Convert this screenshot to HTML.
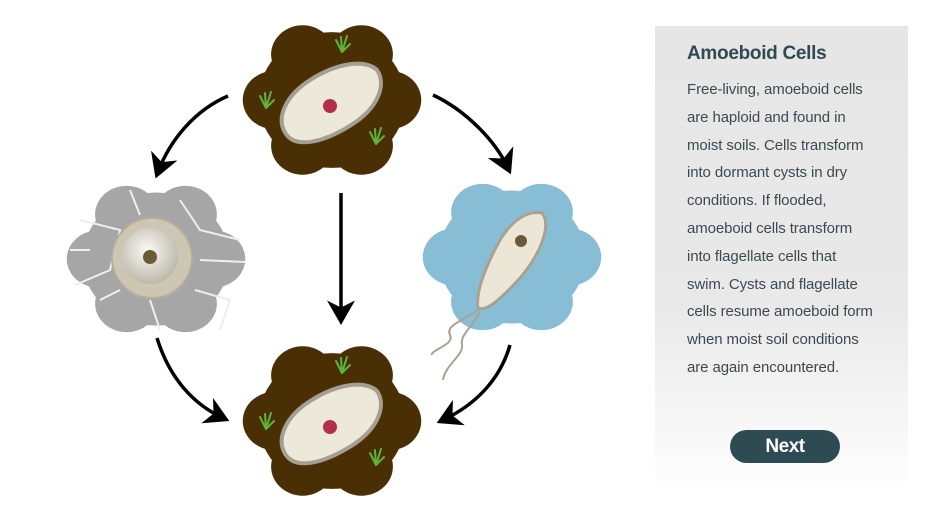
<!DOCTYPE html>
<html><head><meta charset="utf-8"><style>
body{margin:0;width:940px;height:526px;background:#fff;position:relative;overflow:hidden;font-family:"Liberation Sans",sans-serif}
#panel{position:absolute;left:655px;top:26px;width:253px;height:470px;background:linear-gradient(#e6e6e6 0%,#e9e9e9 60%,#fff 100%)}
#panel h1{position:absolute;left:32px;top:17px;margin:0;font-size:19px;font-weight:bold;color:#2f4a50;letter-spacing:-0.3px}
#panel p{position:absolute;left:32px;top:50px;margin:0;white-space:nowrap;font-size:15px;line-height:27.8px;color:#3c4a4e;letter-spacing:-0.1px}
#btn{position:absolute;left:75px;top:404px;width:110px;height:33px;border-radius:17px;background:#2e4b53;color:#fff;font-weight:bold;font-size:19px;text-align:center;line-height:33px;letter-spacing:-0.5px}
svg{position:absolute;left:0;top:0}
</style></head><body>
<svg width="650" height="526" viewBox="0 0 650 526">
<defs>
<marker id="ah" markerWidth="8" markerHeight="8" refX="5" refY="4" orient="auto" markerUnits="strokeWidth"><path d="M0,0 L7,4 L0,8 L2,4z" fill="#000"/></marker>
<radialGradient id="cy" cx="0.45" cy="0.4" r="0.6"><stop offset="0" stop-color="#fafaf6"/><stop offset="1" stop-color="#bdb8aa"/></radialGradient>
<g id="blob">
<circle r="70"/><circle cx="55" cy="0" r="30"/><circle cx="-55" cy="0" r="30"/><circle cx="28" cy="47" r="30"/><circle cx="-28" cy="47" r="30"/><circle cx="28" cy="-47" r="30"/><circle cx="-28" cy="-47" r="30"/>
</g>
<g id="grass" fill="none" stroke="#5cb53a" stroke-width="2" stroke-linecap="round"><path d="M0,10 L-6,-2 M0,10 L-1,-5 M0,10 L5,-6 M0,10 L8,2"/></g>
<g id="soil">
<use href="#blob" fill="#4a2f05" transform="scale(1.05,0.97)"/>
<g transform="rotate(-32 0 4)">
<path d="M-55,4 C-55,-14 -35,-28 -5,-28 C25,-28 50,-18 56,-2 C58,14 40,32 5,32 C-30,32 -55,22 -55,4Z" fill="#ece8da" stroke="#a59f92" stroke-width="4"/>
</g>
<circle cx="-2" cy="6" r="7" fill="#b3304a"/>
<use href="#grass" x="10" y="-58"/><use href="#grass" x="-66" y="-2"/><use href="#grass" x="44" y="34"/>
</g>
</defs>
<use href="#soil" x="332" y="100"/>
<use href="#soil" x="332" y="421"/>
<g transform="translate(156,259) scale(1.05,0.95)"><use href="#blob" fill="#a6a6a6"/></g>
<g stroke="#eee" stroke-width="2" fill="none">
<path d="M80,220 L120,230 L110,270 L75,285 M100,300 L120,290 M180,200 L200,230 L240,240 M195,290 L230,300 L220,330 M130,190 L140,215 M90,250 L70,250 M200,260 L245,262 M150,300 L160,330"/>
</g>
<circle cx="152" cy="258" r="40" fill="#cdc6b2" stroke="#b5ae9b" stroke-width="2"/>
<circle cx="150" cy="256" r="28" fill="url(#cy)"/>
<circle cx="150" cy="257" r="7" fill="#6b5a38"/>
<g transform="translate(512,257) scale(1.05,0.95)"><use href="#blob" fill="#88bdd6"/></g>
<path d="M478,308 C475,290 488,262 500,240 C512,220 528,210 542,213 C552,225 540,255 520,278 C500,300 486,312 478,308Z" fill="#ece6d6" stroke="#a9a290" stroke-width="3"/>
<circle cx="521" cy="241" r="6" fill="#6b5a38"/>
<path d="M478,310 C465,320 445,325 450,335 C455,345 430,350 432,355 M480,312 C470,330 460,335 462,345 C464,355 445,365 443,380" stroke="#a9a290" stroke-width="2" fill="none"/>
<g stroke="#000" stroke-width="3.5" fill="none" marker-end="url(#ah)">
<path d="M228,96 C195,110 170,140 158,172"/>
<path d="M433,95 C465,110 495,140 508,168"/>
<path d="M341,193 L341,318"/>
<path d="M157,338 C170,380 195,405 223,418"/>
<path d="M510,345 C500,380 475,405 443,420"/>
</g>
</svg>
<div id="panel"><h1>Amoeboid Cells</h1>
<p>Free-living, amoeboid cells<br>are haploid and found in<br>moist soils. Cells transform<br>into dormant cysts in dry<br>conditions. If flooded,<br>amoeboid cells transform<br>into flagellate cells that<br>swim. Cysts and flagellate<br>cells resume amoeboid form<br>when moist soil conditions<br>are again encountered.</p>
<div id="btn">Next</div></div>
</body></html>
